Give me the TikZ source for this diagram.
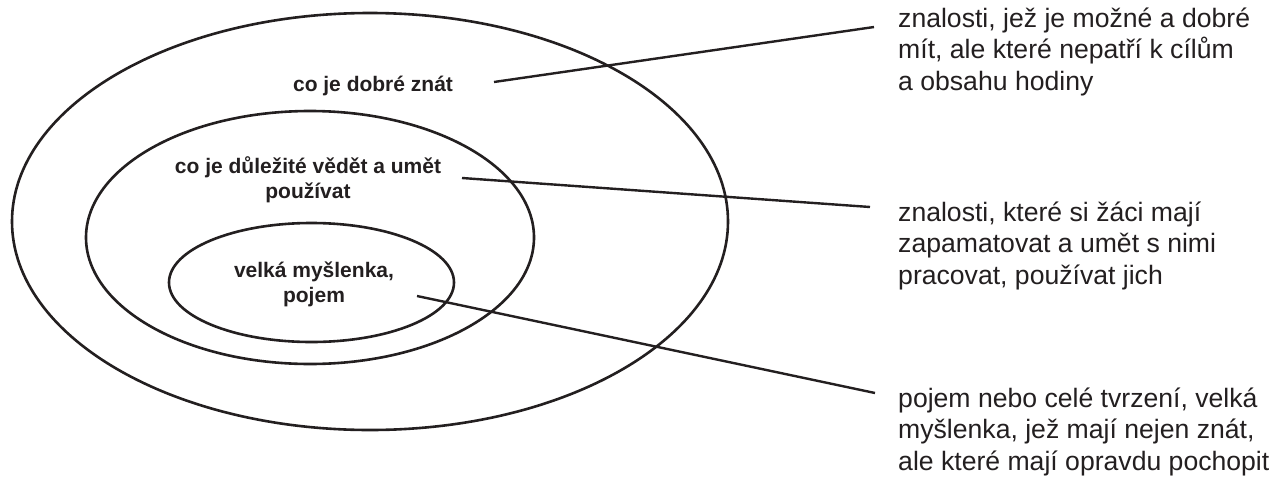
\documentclass[tikz,border=0pt]{standalone}
\usepackage{fontspec}
\setmainfont{Liberation Sans}
\usetikzlibrary{shapes.geometric}
\definecolor{ink}{HTML}{231F20}
\tikzset{
  ring/.style={draw=ink, ellipse, line width=2.6pt, inner sep=0pt, outer sep=0pt},
  tag/.style={text=ink, font=\fontsize{21}{25}\selectfont\bfseries, align=center, inner sep=0pt, anchor=base},
  note/.style={text=ink, font=\fontsize{26.6}{31.5}\selectfont, align=left, inner sep=0pt, anchor=base west},
  wire/.style={draw=ink, line width=2.4pt}
}
\begin{document}
\begin{tikzpicture}[x=1pt, y=-1pt]
\useasboundingbox[fill=white] (0,0) rectangle (1277,477);
\node[ring, minimum width=716pt, minimum height=417pt] (outer) at (370,221.5) {};
\node[ring, minimum width=448pt, minimum height=253pt] (middle) at (310,237.5) {};
\node[ring, minimum width=285pt, minimum height=119pt] (inner) at (311.5,282.5) {};
\node[tag] (t1) at (373,91) {co je dobré znát};
\node[tag] (t2) at (308,198) {co je důležité vědět a umět\\používat};
\node[tag] (t3) at (314,302) {velká myšlenka,\\pojem};
\node[note] (n1) at (898,90) {znalosti, jež je možné a dobré\\mít, ale které nepatří k cílům\\a obsahu hodiny};
\node[note] (n2) at (898,284) {znalosti, které si žáci mají\\zapamatovat a umět s nimi\\pracovat, používat jich};
\node[note] (n3) at (898,470) {pojem nebo celé tvrzení, velká\\myšlenka, jež mají nejen znát,\\ale které mají opravdu pochopit};
\coordinate (s1) at (494,82);
\coordinate (e1) at (874,27);
\coordinate (s2) at (462,178);
\coordinate (e2) at (870,207);
\coordinate (s3) at (417,296);
\coordinate (e3) at (875,393);
\draw[wire] (s1) -- (e1);
\draw[wire] (s2) -- (e2);
\draw[wire] (s3) -- (e3);
\end{tikzpicture}
\end{document}
